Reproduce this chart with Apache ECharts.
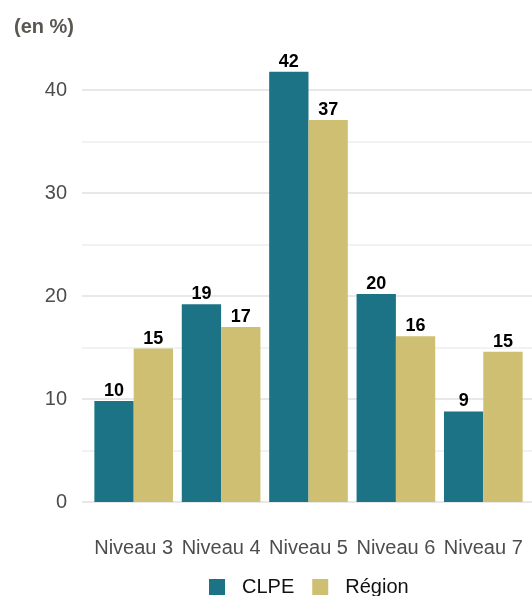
<!DOCTYPE html>
<html><head><meta charset="utf-8">
<script src="https://cdn.jsdelivr.net/npm/echarts@6/dist/echarts.min.js"></script>
<style>html,body{margin:0;padding:0;background:#fff}#c{width:532px;height:596px}</style>
</head><body><div id="c"></div>
<script>
const categories = ['Niveau 3','Niveau 4','Niveau 5','Niveau 6','Niveau 7'];
const clpe = [9.8, 19.2, 41.8, 20.2, 8.8];
const region = [14.9, 17.0, 37.1, 16.1, 14.6];
const seriesNames = ['CLPE','Région'];
const yTicks = [0, 10, 20, 30, 40];

const chart = echarts.init(document.getElementById('c'));
const font = 'Liberation Sans, Arial, sans-serif';
const lbl = {show:true, position:'top', distance:1, color:'#000', fontWeight:'bold', fontSize:18, fontFamily:font,
  formatter: p => Math.round(p.value)};
chart.setOption({
  animation:false,
  title:{text:'(en %)', left:9, top:12, textStyle:{fontFamily:font, fontSize:20, fontWeight:'bold', color:'#5a5650'}},
  grid:[{left:82, right:0, top:49, bottom:94}, {left:90, right:5, top:49, bottom:94}],
  legend:{data:seriesNames, left:204, top:572, itemWidth:16, itemHeight:16, itemGap:18, icon:'rect',
    textStyle:{fontFamily:font, fontSize:20, color:'#111', padding:[0,0,0,12]}},
  xAxis:[
    {type:'category', gridIndex:0, data:categories, show:false},
    {type:'category', gridIndex:1, data:categories, axisLine:{show:false}, axisTick:{show:false},
     axisLabel:{interval:0, hideOverlap:false, margin:36, fontFamily:font, fontSize:20, color:'#4d4d4d'}}
  ],
  yAxis:[
    {type:'value', gridIndex:0, min:0, max:44, interval:5,
     axisLabel:{margin:15, fontFamily:font, fontSize:20, color:'#4d4d4d', showMaxLabel:false,
       formatter: v => yTicks.includes(v) ? String(v) : ''},
     axisLine:{show:false}, axisTick:{show:false},
     splitLine:{show:true, showMaxLine:false, lineStyle:{color:['#e8e8e8','#f2f2f2'], width:2}}},
    {type:'value', gridIndex:1, min:0, max:44, show:false, splitLine:{show:false}}
  ],
  series:[
    {name:seriesNames[0], type:'bar', xAxisIndex:1, yAxisIndex:1, data:clpe, barGap:'0%', barCategoryGap:'10%',
     itemStyle:{color:'#1d7386'}, label:lbl},
    {name:seriesNames[1], type:'bar', xAxisIndex:1, yAxisIndex:1, data:region,
     itemStyle:{color:'#cfbf72'}, label:lbl}
  ]
});
</script></body></html>
